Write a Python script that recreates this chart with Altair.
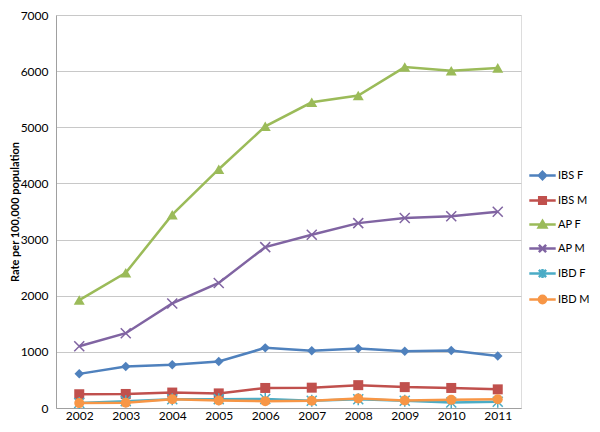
import altair as alt
import pandas as pd

years = [2002, 2003, 2004, 2005, 2006, 2007, 2008, 2009, 2010, 2011]
series_names = ["IBS F", "IBS M", "AP F", "AP M", "IBD F", "IBD M"]

ibs_f = [608, 741, 770, 828, 1071, 1020, 1060, 1012, 1025, 925]
ibs_m = [245, 250, 275, 260, 357, 362, 407, 372, 357, 332]
ap_f = [1922, 2408, 3443, 4253, 5017, 5445, 5565, 6072, 6008, 6058]
ap_m = [1099, 1332, 1863, 2227, 2865, 3085, 3293, 3385, 3415, 3495]
ibd_f = [90, 122, 155, 158, 160, 128, 157, 128, 98, 112]
ibd_m = [87, 93, 157, 134, 122, 128, 169, 134, 145, 157]

colors = ["#4F81BD", "#C0504D", "#9BBB59", "#8064A2", "#4BACC6", "#F79646"]

values = [ibs_f, ibs_m, ap_f, ap_m, ibd_f, ibd_m]
rows = []
for name, vals in zip(series_names, values):
    for yr, v in zip(years, vals):
        rows.append({"year": str(yr), "series": name, "rate": v})
df = pd.DataFrame(rows)

FONT = "Lato"

x_enc = alt.X(
    "year:O",
    scale=alt.Scale(type="point", padding=0.5),
    axis=alt.Axis(
        title=None, labelAngle=0, ticks=False, grid=False,
        domainColor="#a0a0a0", domainWidth=1, labelPadding=2,
        labelFont=FONT, labelFontSize=12, labelColor="#000000",
    ),
)
y_enc = alt.Y(
    "rate:Q",
    scale=alt.Scale(domain=[0, 7000], nice=False),
    axis=alt.Axis(
        title="Rate per 100,000 population",
        values=[0, 1000, 2000, 3000, 4000, 5000, 6000, 7000],
        format="d",
        ticks=False, grid=True, gridColor="#c8c8c8", gridWidth=1,
        domainColor="#a0a0a0", domainWidth=1, labelPadding=8,
        labelFont=FONT, labelFontSize=12, labelColor="#000000",
        titleFont=FONT, titleFontSize=11, titleFontWeight="bold",
        titleColor="#000000", titleX=-41, titleY=196.5,
        titleBaseline="middle", titleAlign="center", titleAngle=270,
    ),
)

# plot-marker shapes
point_shapes = [
    "diamond", "square", "triangle-up",
    "M-1,-1L1,1M-1,1L1,-1",
    "M-1,-1L1,1M-1,1L1,-1M0,-1.2L0,1.2",
    "circle",
]
point_sizes = [90, 100, 121, 100, 100, 100]
point_filled = [True, True, True, False, False, True]

# legend symbols: line with marker (unit = 11 px)
legend_paths = [
    "M-1.2,0L1.2,0M0,-0.33L0.33,0L0,0.33L-0.33,0Z",
    "M-1.2,0L1.2,0M-0.3,-0.3L0.3,-0.3L0.3,0.3L-0.3,0.3Z",
    "M-1.2,0L1.2,0M0,-0.33L0.35,0.27L-0.35,0.27Z",
    "M-1.2,0L1.2,0M-0.33,-0.33L0.33,0.33M-0.33,0.33L0.33,-0.33",
    "M-1.2,0L1.2,0M-0.33,-0.33L0.33,0.33M-0.33,0.33L0.33,-0.33M0,-0.42L0,0.42",
    "M-1.2,0L1.2,0M-0.33,0A0.33,0.33 0 1,0 0.33,0A0.33,0.33 0 1,0 -0.33,0Z",
]

leg = alt.Legend(
    title=None, orient="none", legendX=474, legendY=148,
    symbolSize=484, symbolStrokeWidth=2.5, symbolOpacity=1,
    labelFont=FONT, labelFontSize=11, labelColor="#000000",
    labelOffset=3, rowPadding=3, padding=0,
)

# legend-only layer: no data rows pass, the legend comes from the explicit scale domain
legend_layer = alt.Chart(df).transform_filter("false").mark_point(
    filled=True, size=484, strokeWidth=2.5
).encode(
    x=x_enc,
    y=y_enc,
    fill=alt.Fill("series:N", scale=alt.Scale(domain=series_names, range=colors), legend=leg),
    stroke=alt.Stroke("series:N", scale=alt.Scale(domain=series_names, range=colors), legend=leg),
    shape=alt.Shape("series:N", scale=alt.Scale(domain=series_names, range=legend_paths), legend=leg),
)

layers = [legend_layer]
for name, col, shp, sz, fl in zip(series_names, colors, point_shapes, point_sizes, point_filled):
    sub = alt.Chart(df).transform_filter(alt.datum.series == name)
    layers.append(sub.mark_line(color=col, strokeWidth=2.5).encode(x=x_enc, y=y_enc))
    if fl:
        pts = sub.mark_point(shape=shp, size=sz, filled=True, color=col, opacity=1)
    else:
        pts = sub.mark_point(shape=shp, size=sz, filled=False, color=col, opacity=1, strokeWidth=1.5)
    layers.append(pts.encode(x=x_enc, y=y_enc))

chart = alt.layer(*layers).properties(
    width=465,
    height=393,
    autosize=alt.AutoSizeParams(type="none"),
    padding={"left": 48, "top": 7, "right": 71, "bottom": 16},
).configure_view(stroke=None).configure(background="white")

chart.save("out.html", embed_options={"renderer": "svg", "actions": False})
